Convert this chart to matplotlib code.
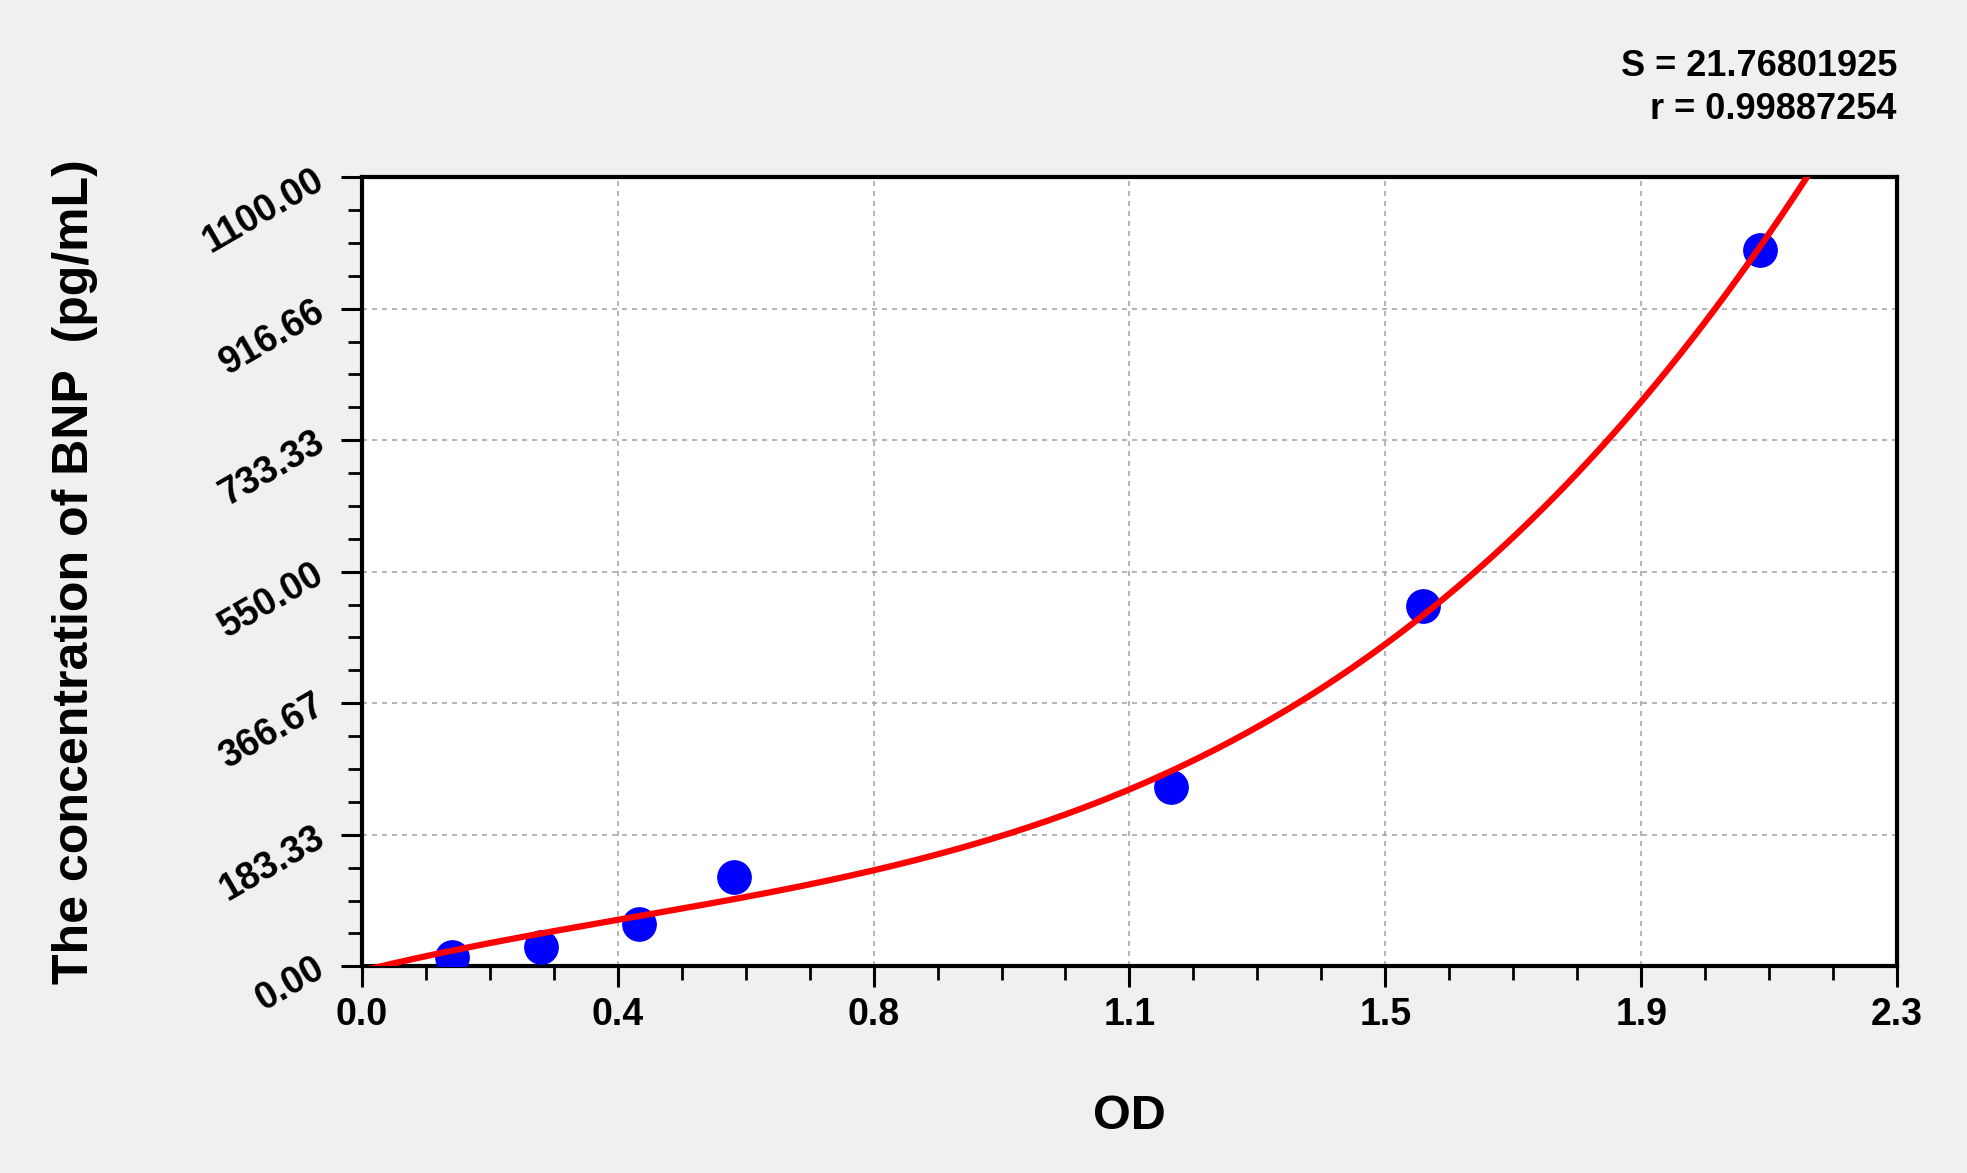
import numpy as np
import matplotlib.pyplot as plt
from matplotlib.ticker import AutoMinorLocator

################ DATA ################
# standards (OD, concentration)
od = [0.135, 0.269, 0.415, 0.558, 1.212, 1.590, 2.095]
conc = [13.3, 27.6, 59.5, 124.0, 250.0, 502.0, 998.5]

# points
fit_od = [0.013, 0.135, 0.269, 0.415, 0.559, 0.767, 1.150, 1.533, 1.705,
          1.858, 1.917, 2.031, 2.165]
fit_conc = [-3, 21, 45, 70, 96, 135, 244, 446, 581, 733, 786, 917, 1100]

x_ticklabels = ['0.0', '0.4', '0.8', '1.1', '1.5', '1.9', '2.3']
y_ticklabels = ['0.00', '183.33', '366.67', '550.00', '733.33', '916.66', '1100.00']

stats_text = 'S = 21.76801925\nr = 0.99887254'

################ STYLE ################
plt.rcParams['font.family'] = ['Liberation Sans', 'DejaVu Sans']
bg = '#f0f0f0'

fig = plt.figure(figsize=(19.67, 11.73), dpi=100, facecolor=bg)
ax = fig.add_axes([0.184, 0.1762, 0.7804, 0.6728])
ax.set_facecolor('white')

# cubic regression curve, smoothed from the points read on the line
coef = np.polyfit(fit_od, fit_conc, 3)
xs = np.linspace(fit_od[0], 2.3, 400)
ax.plot(xs, np.polyval(coef, xs), color='red', lw=4.5, zorder=4,
        clip_on=True)

ax.plot(od, conc, 'o', color='#0000ff', ms=24, mec='#0000ff', zorder=3)

ax.set_xlim(0, 2.3)
ax.set_ylim(0, 1100)

ax.set_xticks(np.linspace(0, 2.3, 7))
ax.set_xticklabels(x_ticklabels)
ax.set_yticks(np.linspace(0, 1100, 7))
ax.set_yticklabels(y_ticklabels)
ax.xaxis.set_minor_locator(AutoMinorLocator(4))
ax.yaxis.set_minor_locator(AutoMinorLocator(4))

ax.tick_params(which='major', direction='out', length=15, width=2.2,
               labelsize=27)
ax.tick_params(which='minor', direction='out', length=10, width=2)
ax.tick_params(axis='x', which='major', pad=7)
ax.tick_params(axis='y', which='major', pad=14)
for lab in ax.get_xticklabels() + ax.get_yticklabels():
    lab.set_fontweight('bold')
plt.setp(ax.get_yticklabels(), rotation=30, ha='right', va='center',
         rotation_mode='anchor')

for sp in ax.spines.values():
    sp.set_linewidth(3)

ax.grid(True, which='major', color='#a8a8a8', lw=1.2, ls=(0, (3, 3)))
ax.set_axisbelow(True)

ax.set_xlabel('OD', fontsize=35, fontweight='bold')
ax.xaxis.set_label_coords(0.5, -0.162)
ax.set_ylabel('The concentration of BNP  (pg/mL)', fontsize=36,
              fontweight='bold')
ax.yaxis.set_label_coords(-0.172, 0.5)

fig.text(0.9644, 0.958, stats_text, ha='right', va='top', fontsize=26,
         fontweight='bold', linespacing=1.3)

fig.savefig('out.png', dpi=100, facecolor=bg)
